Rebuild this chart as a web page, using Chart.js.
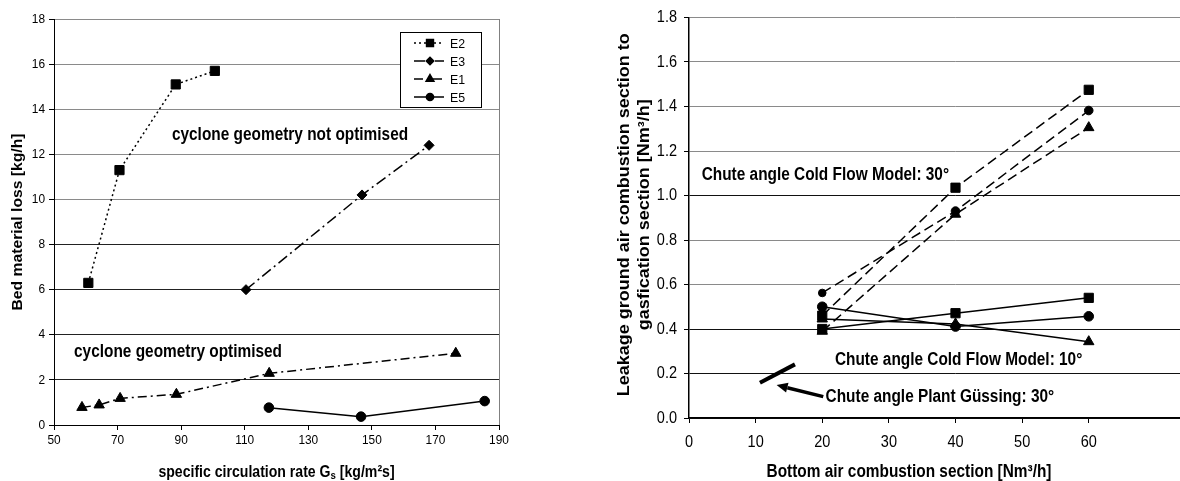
<!DOCTYPE html>
<html>
<head>
<meta charset="utf-8">
<script src="https://cdn.jsdelivr.net/npm/chart.js@4.4.1/dist/chart.umd.min.js"></script>
<style>
  html, body { margin:0; padding:0; background:#fff; overflow:hidden; }
  #wrap { position:relative; width:1180px; height:481px; overflow:hidden; background:#fff; }
  #left { position:absolute; left:0; top:0; }
  #right { position:absolute; left:590px; top:0; }
</style>
</head>
<body>
<div id="wrap">
  <canvas id="left" width="590" height="481"></canvas>
  <canvas id="right" width="640" height="481"></canvas>
</div>
<script>
// ---------- LEFT CHART DATA ----------
const leftXTicks = [50, 70, 90, 110, 130, 150, 170, 190];
const leftYTicks = [0, 2, 4, 6, 8, 10, 12, 14, 16, 18];
const seriesNamesLeft = ['E2', 'E3', 'E1', 'E5'];
const e2X = [60.8, 70.6, 88.3, 100.6];
const e2Y = [6.3, 11.3, 15.1, 15.7];
const e3X = [110.4, 146.9, 168.0];
const e3Y = [6.0, 10.2, 12.4];
const e1X = [58.8, 64.2, 70.8, 88.5, 117.7, 176.4];
const e1Y = [0.78, 0.89, 1.18, 1.36, 2.29, 3.18];
const e5X = [117.6, 146.6, 185.5];
const e5Y = [0.77, 0.37, 1.06];
const leftTitleX = ['specific circulation rate G', 's', ' [kg/m²s]'];
const leftTitleY = 'Bed material loss [kg/h]';
const leftNotes = ['cyclone geometry not optimised', 'cyclone geometry optimised'];
const leftNoteX = [87.1, 56.3];
const leftNoteY = [12.86, 3.25];

// ---------- RIGHT CHART DATA ----------
const rightXTicks = [0, 10, 20, 30, 40, 50, 60];
const rightYTicks = [0.0, 0.2, 0.4, 0.6, 0.8, 1.0, 1.2, 1.4, 1.6, 1.8];
const bottomAir = [20, 40, 60];
const cold30Square = [0.46, 1.035, 1.475];
const cold30Circle = [0.562, 0.93, 1.382];
const cold30Triangle = [0.39, 0.916, 1.305];
const cold10Square = [0.40, 0.471, 0.54];
const cold10Circle = [0.50, 0.411, 0.457];
const cold10Triangle = [0.445, 0.423, 0.343];
const plantX = [10.65, 15.9];
const plantY = [0.158, 0.241];
const rightTitleX = 'Bottom air combustion section [Nm³/h]';
const rightTitleY = ['Leakage ground air combustion section to', 'gasfication section [Nm³/h]'];
const rightNotes = ['Chute angle Cold Flow Model: 30°', 'Chute angle Cold Flow Model: 10°', 'Chute angle Plant Güssing: 30°'];
const rightNoteX = [1.9, 21.9, 20.5];
const rightNoteY = [1.09, 0.26, 0.094];
const arrowFromX = 20.15, arrowFromY = 0.096, arrowToX = 13.15, arrowToY = 0.148;

const FONT = '"Liberation Sans", Arial, Helvetica, sans-serif';
const SX = 0.88; // horizontal condensing of the text
const pts = (xs, ys) => xs.map((x, i) => ({x, y: ys[i]}));

function txt(ctx, s, x, y, font, align, rot, sx) {
  ctx.save();
  ctx.translate(x, y);
  ctx.scale(sx || SX, 1);
  if (rot) ctx.rotate(rot);
  ctx.font = font;
  ctx.textAlign = align || 'left';
  ctx.textBaseline = 'middle';
  ctx.fillStyle = '#000';
  ctx.fillText(s, 0, 0);
  ctx.restore();
}
function txtW(ctx, s, font, sx) {
  ctx.save(); ctx.font = font; const w = ctx.measureText(s).width; ctx.restore();
  return w * (sx || SX);
}

// ---------- plugins ----------
const notesPlugin = {
  id: 'notes',
  afterDatasetsDraw(chart, args, o) {
    const {ctx, scales: {x, y}} = chart;
    (o.texts || []).forEach((t, i) => {
      txt(ctx, t, x.getPixelForValue(o.xs[i]), y.getPixelForValue(o.ys[i]), o.font, 'left');
    });
    if (o.arrow) {
      const a = o.arrow;
      const x0 = x.getPixelForValue(a[0]), y0 = y.getPixelForValue(a[1]);
      const x1 = x.getPixelForValue(a[2]), y1 = y.getPixelForValue(a[3]);
      const ang = Math.atan2(y1 - y0, x1 - x0);
      const hl = 11, hw = 5;
      const bx = x1 - hl * Math.cos(ang), by = y1 - hl * Math.sin(ang);
      ctx.save();
      ctx.strokeStyle = '#000';
      ctx.fillStyle = '#000';
      ctx.lineWidth = 3.5;
      ctx.beginPath(); ctx.moveTo(x0, y0); ctx.lineTo(bx, by); ctx.stroke();
      ctx.beginPath();
      ctx.moveTo(x1, y1);
      ctx.lineTo(bx + hw * Math.sin(ang), by - hw * Math.cos(ang));
      ctx.lineTo(bx - hw * Math.sin(ang), by + hw * Math.cos(ang));
      ctx.closePath(); ctx.fill();
      ctx.restore();
    }
  }
};

// tick labels drawn from the library's scales
const tickLabels = {
  id: 'tickLabels',
  afterDraw(chart, args, o) {
    const {ctx, scales: {x, y}} = chart;
    x.ticks.forEach(t => {
      txt(ctx, o.fmtX(t.value), x.getPixelForValue(t.value), o.xLabelY, o.font, 'center');
    });
    y.ticks.forEach(t => {
      txt(ctx, o.fmtY(t.value), y.right - o.yGap, y.getPixelForValue(t.value), o.font, 'right');
    });
  }
};

const leftExtras = {
  id: 'leftExtras',
  afterDraw(chart) {
    const {ctx, chartArea: ca} = chart;
    ctx.save();
    // right border of plot
    ctx.strokeStyle = '#808080';
    ctx.lineWidth = 1;
    ctx.beginPath(); ctx.moveTo(ca.right + 0.5, ca.top); ctx.lineTo(ca.right + 0.5, ca.bottom); ctx.stroke();
    // legend box
    const bx = ca.right - 99, by = ca.top + 13, bw = 81, bh = 75;
    ctx.fillStyle = '#fff';
    ctx.fillRect(bx, by, bw, bh);
    ctx.strokeStyle = '#000';
    ctx.lineWidth = 1;
    ctx.strokeRect(bx + 0.5, by + 0.5, bw, bh);
    chart.data.datasets.forEach((ds, i) => {
      const yy = by + 11 + i * 18;
      ctx.strokeStyle = '#000';
      ctx.lineWidth = 1.5;
      ctx.setLineDash(ds.borderDash || []);
      ctx.beginPath(); ctx.moveTo(bx + 14, yy); ctx.lineTo(bx + 44, yy); ctx.stroke();
      ctx.setLineDash([]);
      ctx.fillStyle = '#000';
      Chart.helpers.drawPoint(ctx, {pointStyle: ds.pointStyle, radius: ds.pointRadius * 0.75, rotation: 0, borderWidth: 1}, bx + 30, yy);
      txt(ctx, ds.label, bx + 50, yy + 1, '13px ' + FONT, 'left', 0, 0.95);
    });
    ctx.restore();
    // axis titles
    txt(ctx, leftTitleY, 18, (ca.top + ca.bottom) / 2, 'bold 15.7px ' + FONT, 'center', -Math.PI / 2);
    const f1 = 'bold 16px ' + FONT, f2 = 'bold 11px ' + FONT;
    const w0 = txtW(ctx, leftTitleX[0], f1), w1 = txtW(ctx, leftTitleX[1], f2), w2 = txtW(ctx, leftTitleX[2], f1);
    let sx = (ca.left + ca.right) / 2 - (w0 + w1 + w2) / 2;
    const ty = 473;
    txt(ctx, leftTitleX[0], sx, ty, f1, 'left');
    txt(ctx, leftTitleX[1], sx + w0, ty + 3, f2, 'left');
    txt(ctx, leftTitleX[2], sx + w0 + w1, ty, f1, 'left');
  }
};

const rightExtras = {
  id: 'rightExtras',
  afterDraw(chart) {
    const {ctx, chartArea: ca, scales: {x}} = chart;
    txt(ctx, rightTitleX, x.getPixelForValue(0) + 220, 472, 'bold 17.5px ' + FONT, 'center');
    const cy = (ca.top + ca.bottom) / 2 - 3;
    txt(ctx, rightTitleY[0], 35, cy, 'bold 18px ' + FONT, 'center', -Math.PI / 2);
    txt(ctx, rightTitleY[1], 55, cy, 'bold 18px ' + FONT, 'center', -Math.PI / 2);
  }
};

// ---------- LEFT CHART ----------
const lineBase = {showLine: true, borderColor: '#000', backgroundColor: '#000', borderWidth: 1.5, pointBorderWidth: 1, pointBorderColor: '#000', pointBackgroundColor: '#000'};

new Chart(document.getElementById('left'), {
  type: 'scatter',
  data: {
    datasets: [
      {...lineBase, label: seriesNamesLeft[0], data: pts(e2X, e2Y), borderDash: [2, 3], pointStyle: 'rect', pointRadius: 6.5},
      {...lineBase, label: seriesNamesLeft[1], data: pts(e3X, e3Y), borderDash: [11, 4, 2, 4], pointStyle: 'rectRot', pointRadius: 5},
      {...lineBase, label: seriesNamesLeft[2], data: pts(e1X, e1Y), borderDash: [9, 4, 2, 4], pointStyle: 'triangle', pointRadius: 6},
      {...lineBase, label: seriesNamesLeft[3], data: pts(e5X, e5Y), borderDash: [], pointStyle: 'circle', pointRadius: 4.8}
    ]
  },
  options: {
    animation: false, responsive: false, devicePixelRatio: 1,
    layout: {padding: {top: 19, right: 91, left: 0, bottom: 0}},
    plugins: {
      legend: {display: false}, tooltip: {enabled: false},
      notes: {texts: leftNotes, xs: leftNoteX, ys: leftNoteY, font: 'bold 17.5px ' + FONT},
      tickLabels: {font: '13.5px ' + FONT, xLabelY: 440, yGap: 9, fmtX: v => String(v), fmtY: v => String(v)}
    },
    scales: {
      x: {
        type: 'linear', min: leftXTicks[0], max: leftXTicks[leftXTicks.length - 1],
        afterBuildTicks: s => { s.ticks = leftXTicks.map(v => ({value: v})); },
        ticks: {display: false},
        grid: {drawOnChartArea: false, drawTicks: true, tickLength: 5, tickColor: '#000'},
        border: {color: '#000', width: 1},
        afterFit: s => { s.height = 56; }
      },
      y: {
        min: leftYTicks[0], max: leftYTicks[leftYTicks.length - 1],
        afterBuildTicks: s => { s.ticks = leftYTicks.map(v => ({value: v})); },
        ticks: {display: false},
        grid: {color: c => (c.tick && c.tick.value >= 10 ? '#8a8a8a' : '#222'), lineWidth: 1, tickLength: 5, tickColor: '#000'},
        border: {color: '#000', width: 1},
        afterFit: s => { s.width = 54; }
      }
    }
  },
  plugins: [notesPlugin, tickLabels, leftExtras]
});

// ---------- RIGHT CHART ----------
const dash30 = [10, 5];
new Chart(document.getElementById('right'), {
  type: 'scatter',
  data: {
    datasets: [
      {...lineBase, label: '30 square', data: pts(bottomAir, cold30Square), borderDash: dash30, pointStyle: 'rect', pointRadius: 6.5},
      {...lineBase, label: '30 circle', data: pts(bottomAir, cold30Circle), borderDash: dash30, pointStyle: 'circle', pointRadius: [3.8, 4.3, 4.3]},
      {...lineBase, label: '30 triangle', data: pts(bottomAir, cold30Triangle), borderDash: dash30, pointStyle: 'triangle', pointRadius: 6},
      {...lineBase, label: '10 square', data: pts(bottomAir, cold10Square), pointStyle: 'rect', pointRadius: 6.5},
      {...lineBase, label: '10 circle', data: pts(bottomAir, cold10Circle), pointStyle: 'circle', pointRadius: 4.8},
      {...lineBase, label: '10 triangle', data: pts(bottomAir, cold10Triangle), pointStyle: 'triangle', pointRadius: 6},
      {...lineBase, label: 'Plant', data: pts(plantX, plantY), borderWidth: 4, pointRadius: 0}
    ]
  },
  options: {
    animation: false, responsive: false, devicePixelRatio: 1,
    layout: {padding: {top: 17.5, right: 8, left: 0, bottom: 0}},
    plugins: {
      legend: {display: false}, tooltip: {enabled: false},
      notes: {texts: rightNotes, xs: rightNoteX, ys: rightNoteY, font: 'bold 17.5px ' + FONT,
              arrow: [arrowFromX, arrowFromY, arrowToX, arrowToY]},
      tickLabels: {font: '16.5px ' + FONT, xLabelY: 442, yGap: 12, fmtX: v => String(v), fmtY: v => Number(v).toFixed(1)}
    },
    scales: {
      x: {
        type: 'linear', min: 0, max: 80,
        afterBuildTicks: s => { s.ticks = rightXTicks.map(v => ({value: v})); },
        ticks: {display: false},
        grid: {drawOnChartArea: false, drawTicks: true, tickLength: 5, tickColor: '#000'},
        border: {color: '#000', width: 1.5},
        afterFit: s => { s.height = 63; }
      },
      y: {
        min: 0, max: 1.8,
        afterBuildTicks: s => { s.ticks = rightYTicks.map(v => ({value: v})); },
        ticks: {display: false},
        grid: {color: c => (c.tick && (Math.abs(c.tick.value - 1.0) < 1e-6 || c.tick.value < 0.45) ? '#111' : '#8a8a8a'), lineWidth: 1, tickLength: 5, tickColor: '#000'},
        border: {color: '#000', width: 1.5},
        afterFit: s => { s.width = 99; }
      }
    }
  },
  plugins: [notesPlugin, tickLabels, rightExtras]
});
</script>
</body>
</html>
